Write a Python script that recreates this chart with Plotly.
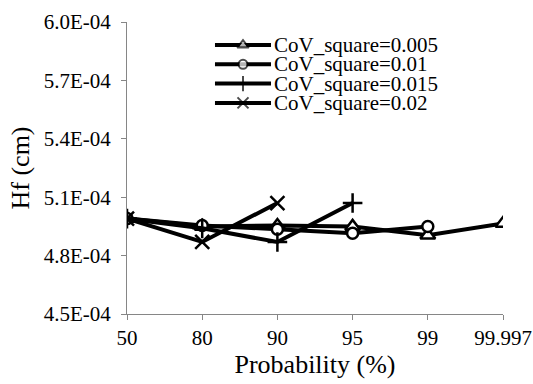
import plotly.graph_objects as go

# ---- data ----
categories = ["50", "80", "90", "95", "99", "99.997"]
series_names = ["CoV_square=0.005", "CoV_square=0.01", "CoV_square=0.015", "CoV_square=0.02"]
hf_0005 = [4.99e-4, 4.95e-4, 4.955e-4, 4.95e-4, 4.905e-4, 4.965e-4]
hf_001 = [4.99e-4, 4.955e-4, 4.935e-4, 4.915e-4, 4.95e-4]
hf_0015 = [4.99e-4, 4.94e-4, 4.87e-4, 5.07e-4]
hf_002 = [4.99e-4, 4.87e-4, 5.07e-4]
ytick_vals = [4.5e-4, 4.8e-4, 5.1e-4, 5.4e-4, 5.7e-4, 6.0e-4]
ytick_text = ["4.5E-04", "4.8E-04", "5.1E-04", "5.4E-04", "5.7E-04", "6.0E-04"]

series_values = [hf_0005, hf_001, hf_0015, hf_002]
symbols = ["triangle-up", "circle", "cross-thin", "x-thin"]
sizes = [13, 11, 14, 14]

FONT = "Liberation Serif"
AXIS_COLOR = "#868686"

fig = go.Figure()
for name, vals, sym, sz in zip(series_names, series_values, symbols, sizes):
    fig.add_trace(go.Scatter(
        x=categories[:len(vals)], y=vals, name=name, mode="lines+markers",
        line=dict(color="black", width=4),
        marker=dict(symbol=sym, size=sz, color="white",
                    line=dict(color="black", width=2.5)),
        showlegend=False,
    ))

# ---- manual legend (compact rows like the original) ----
leg_x0, leg_x1 = 0.234, 0.383
leg_text_x = 0.385
leg_top, leg_step = 0.921, 0.066
leg_sizes = [10, 9, 11, 11]
for i, (name, sym, sz) in enumerate(zip(series_names, symbols, leg_sizes)):
    yy = leg_top - i * leg_step
    fig.add_trace(go.Scatter(
        x=[leg_x0, (leg_x0 + leg_x1) / 2, leg_x1], y=[yy, yy, yy],
        mode="lines+markers", xaxis="x2", yaxis="y2", showlegend=False,
        hoverinfo="skip",
        line=dict(color="black", width=4),
        marker=dict(symbol=sym, size=[0, sz, 0], color="white",
                    line=dict(color="black", width=2)),
    ))
    fig.add_annotation(x=leg_text_x, y=yy, xref="x2", yref="y2", text=name,
                       showarrow=False, xanchor="left", yanchor="middle",
                       font=dict(family=FONT, size=21, color="black"))

fig.update_layout(
    width=533, height=384,
    margin=dict(l=127, r=30, t=22, b=70),
    paper_bgcolor="white", plot_bgcolor="white",
    font=dict(family=FONT, color="black"),
    xaxis=dict(
        type="category", categoryorder="array", categoryarray=categories,
        range=[0, len(categories) - 1], automargin=False,
        showline=True, linecolor=AXIS_COLOR, linewidth=1,
        ticks="outside", ticklen=5, tickcolor=AXIS_COLOR,
        showgrid=False, zeroline=False,
        tickfont=dict(family=FONT, size=21, color="black"),
        title=dict(text="Probability (%)", font=dict(family=FONT, size=26, color="black"), standoff=5),
    ),
    yaxis=dict(
        range=[ytick_vals[0], ytick_vals[-1]], automargin=False,
        tickvals=ytick_vals, ticktext=ytick_text,
        showline=True, linecolor=AXIS_COLOR, linewidth=1,
        ticks="outside", ticklen=5, tickcolor=AXIS_COLOR,
        ticklabelstandoff=6,
        showgrid=False, zeroline=False,
        tickfont=dict(family=FONT, size=21, color="black"),
        title=dict(text="Hf (cm)", font=dict(family=FONT, size=26, color="black"), standoff=6),
    ),
    xaxis2=dict(overlaying="x", range=[0, 1], visible=False, fixedrange=True),
    yaxis2=dict(overlaying="y", range=[0, 1], visible=False, fixedrange=True),
)

fig.write_html("out.html")
